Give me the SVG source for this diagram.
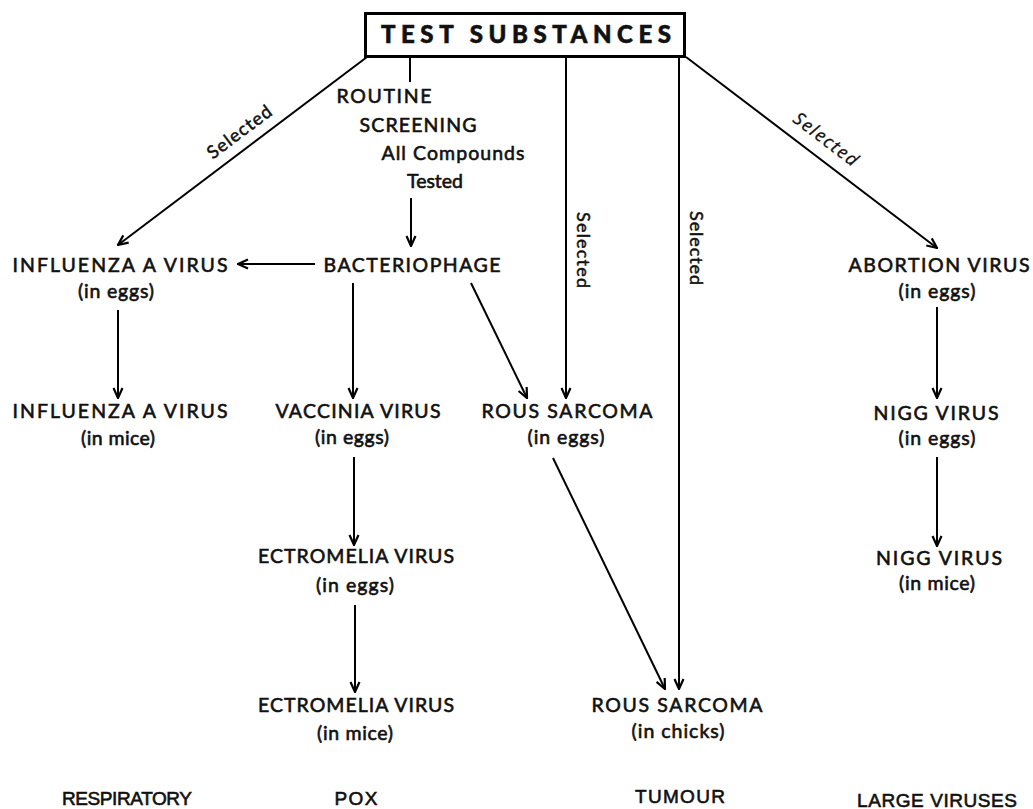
<svg xmlns="http://www.w3.org/2000/svg" width="1033" height="809" viewBox="0 0 1033 809">
<defs>
<marker id="arr" viewBox="0 0 12 12" refX="11" refY="6" markerWidth="12" markerHeight="12" markerUnits="userSpaceOnUse" orient="auto">
<path d="M1,1.5 L11,6 L1,10.5" fill="none" stroke="#000" stroke-width="2.2" stroke-linejoin="miter"/>
</marker>
<style>
.t{font-family:Lato,"Open Sans","Liberation Sans",sans-serif;font-size:19.5px;fill:#111;stroke:#111;stroke-width:0.6px;text-anchor:middle}
.s{font-family:Lato,"Open Sans","Liberation Sans",sans-serif;font-size:18px;fill:#111;stroke:#111;stroke-width:0.5px;text-anchor:middle}
.h{font-family:"Open Sans","Liberation Sans",sans-serif;font-size:18px;fill:#111;stroke:#111;stroke-width:0.3px;text-anchor:middle;font-style:italic}
.b{font-family:"Liberation Sans Narrow","Liberation Sans",sans-serif;font-size:19px;fill:#111;stroke:#111;stroke-width:0.6px;text-anchor:middle}
.ln{stroke:#000;stroke-width:2;fill:none}
.a{stroke:#000;stroke-width:2;fill:none;marker-end:url(#arr)}
</style>
</defs>
<rect width="1033" height="809" fill="#fff"/>

<g id="connectors">
<path class="a" d="M367,57 L118,245"/>
<path class="ln" d="M410,57 L410,82"/>
<path class="a" d="M411,198 L411,246"/>
<path class="a" d="M315,264 L238,264"/>
<path class="a" d="M118,310 L118,398"/>
<path class="a" d="M353,283 L353,398"/>
<path class="a" d="M354,457 L354,545"/>
<path class="a" d="M355,605 L355,692"/>
<path class="a" d="M471,283 L527,398"/>
<path class="a" d="M566,57 L566,398"/>
<path class="a" d="M553,458 L665,689"/>
<path class="a" d="M679,57 L679,689"/>
<path class="a" d="M686,57 L937,248"/>
<path class="a" d="M937,307 L937,398"/>
<path class="a" d="M937,457 L937,546"/>
<text class="s" transform="translate(240,133) rotate(-37)" y="5" textLength="76">Selected</text>
<text class="h" transform="translate(825,140) rotate(37.3)" y="5" textLength="76">Selected</text>
<text class="s" transform="translate(583,250) rotate(90)" y="6" textLength="76">Selected</text>
<text class="s" transform="translate(696,248) rotate(90)" y="6" textLength="74">Selected</text>
</g>

<g id="test-substances">
<rect x="365.5" y="13.5" width="319" height="43" fill="#fff" stroke="#000" stroke-width="3"/>
<text x="526" y="43" font-family="Lato,'Open Sans','Liberation Sans',sans-serif" font-size="24" font-weight="900" stroke="#111" stroke-width="0.6" text-anchor="middle" textLength="290" lengthAdjust="spacing" fill="#111">TEST SUBSTANCES</text>
</g>

<g id="routine-screening">
<text class="t" x="384" y="103" textLength="95">ROUTINE</text>
<text class="t" x="418" y="132" textLength="117">SCREENING</text>
<text class="t" x="453" y="160" textLength="143">All Compounds</text>
<text class="t" x="435" y="188" textLength="56">Tested</text>
</g>

<g id="bacteriophage">
<text class="t" x="412" y="272" textLength="177">BACTERIOPHAGE</text>
</g>

<g id="influenza-eggs">
<text class="t" x="120" y="272" textLength="215">INFLUENZA A VIRUS</text>
<text class="t" x="116" y="298" textLength="76">(in eggs)</text>
</g>

<g id="influenza-mice">
<text class="t" x="120" y="418" textLength="215">INFLUENZA A VIRUS</text>
<text class="t" x="118" y="445" textLength="74">(in mice)</text>
</g>

<g id="vaccinia-eggs">
<text class="t" x="358" y="418" textLength="165">VACCINIA VIRUS</text>
<text class="t" x="352" y="444" textLength="74">(in eggs)</text>
</g>

<g id="ectromelia-eggs">
<text class="t" x="356" y="563" textLength="196">ECTROMELIA VIRUS</text>
<text class="t" x="355" y="592" textLength="78">(in eggs)</text>
</g>

<g id="ectromelia-mice">
<text class="t" x="356" y="712" textLength="196">ECTROMELIA VIRUS</text>
<text class="t" x="355" y="740" textLength="76">(in mice)</text>
</g>

<g id="rous-eggs">
<text class="t" x="567" y="418" textLength="171">ROUS SARCOMA</text>
<text class="t" x="566" y="444" textLength="77">(in eggs)</text>
</g>

<g id="rous-chicks">
<text class="t" x="677" y="712" textLength="171">ROUS SARCOMA</text>
<text class="t" x="678" y="738" textLength="93">(in chicks)</text>
</g>

<g id="abortion-eggs">
<text class="t" x="939" y="272" textLength="181">ABORTION VIRUS</text>
<text class="t" x="937" y="298" textLength="77">(in eggs)</text>
</g>

<g id="nigg-eggs">
<text class="t" x="936" y="420" textLength="125">NIGG VIRUS</text>
<text class="t" x="937" y="445" textLength="77">(in eggs)</text>
</g>

<g id="nigg-mice">
<text class="t" x="939" y="565" textLength="126">NIGG VIRUS</text>
<text class="t" x="937" y="590" textLength="76">(in mice)</text>
</g>

<g id="categories">
<text class="b" x="127" y="805" textLength="130">RESPIRATORY</text>
<text class="b" x="356" y="805" textLength="43">POX</text>
<text class="b" x="680" y="803" textLength="90">TUMOUR</text>
<text class="b" x="937" y="807" textLength="160">LARGE VIRUSES</text>
</g>
</svg>
